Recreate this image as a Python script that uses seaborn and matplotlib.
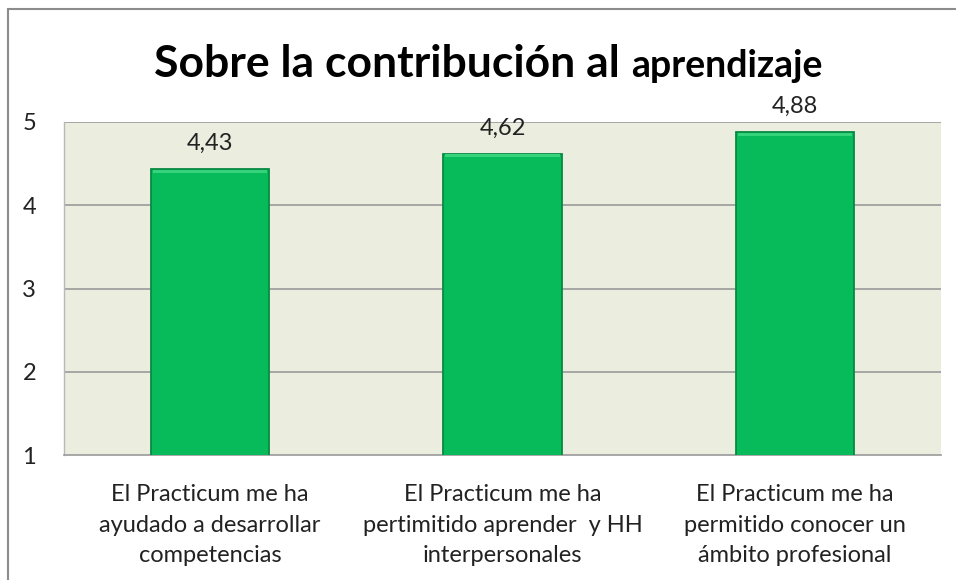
import matplotlib
matplotlib.use("Agg")
import matplotlib.pyplot as plt
import seaborn as sns
import pandas as pd
from matplotlib.patches import Rectangle

categories = [
    "El Practicum me ha\nayudado a desarrollar\ncompetencias",
    "El Practicum me ha\npertimitido aprender  y HH\ninterpersonales",
    "El Practicum me ha\npermitido conocer un\námbito profesional",
]
values = [4.43, 4.62, 4.88]
value_labels = ["4,43", "4,62", "4,88"]
y_ticks = [1, 2, 3, 4, 5]

df = pd.DataFrame({"cat": categories, "val": values})

sns.set_theme(style="white")
FONT = ["Lato", "DejaVu Sans"]
plt.rcParams["font.family"] = FONT

W, H = 956, 580
fig = plt.figure(figsize=(W / 100, H / 100), dpi=100)
ax = fig.add_axes([64 / W, 1 - 455 / H, (941 - 64) / W, (455 - 122) / H])

sns.barplot(data=df, x="cat", y="val", ax=ax, color="#07BB5A",
            saturation=1, width=0.404, edgecolor="#078A42", linewidth=1.3,
            zorder=3)
ax.set_facecolor("#EBEEDF")
ax.set_ylim(1, 5)
ax.set_xlim(-0.5, 2.5)
ax.set_yticks(y_ticks)
ax.set_yticklabels([str(t) for t in y_ticks], fontsize=17, color="#222222")
ax.tick_params(axis="y", length=0, pad=20)
ax.tick_params(axis="x", length=0, pad=21)
ax.set_xticks(range(len(categories)))
ax.set_xticklabels(categories, fontsize=17, color="#222222", linespacing=1.55)
ax.set_xlabel("")
ax.set_ylabel("")
for t in y_ticks[1:]:
    ax.axhline(t, color="#9A9A9A", lw=1.2, zorder=1)
for s in ["top", "right"]:
    ax.spines[s].set_visible(False)
ax.spines["left"].set_color("#B8B8B8")
ax.spines["bottom"].set_color("#9A9A9A")
ax.spines["left"].set_linewidth(1)
ax.spines["bottom"].set_linewidth(1.2)

# subtle bevel highlight along the top of each bar
for p in ax.patches:
    x0, w, top = p.get_x(), p.get_width(), p.get_y() + p.get_height()
    ax.add_patch(Rectangle((x0 + 0.006, top - 0.045), w - 0.012, 0.035,
                           facecolor="#35D37C", edgecolor="none", zorder=4))

# value labels
for i, (v, lab) in enumerate(zip(values, value_labels)):
    ax.annotate(lab, (i, v), xytext=(0, 11), textcoords="offset points",
                ha="center", va="bottom", fontsize=17, color="#222222")

# title: two parts with different sizes
fig.canvas.draw()
r = fig.canvas.get_renderer()
t1 = fig.text(0, 1 - 77 / H, "Sobre la contribución al ", fontsize=32,
              fontweight="bold", color="#000000", va="baseline", ha="left")
t2 = fig.text(0, 1 - 77 / H, "aprendizaje", fontsize=27,
              fontweight="bold", color="#000000", va="baseline", ha="left")
w1 = t1.get_window_extent(r).width
w2 = t2.get_window_extent(r).width
start = (147 + 830) / 2 - (w1 + w2) / 2
t1.set_x(start / W)
t2.set_x((start + w1) / W)

# outer frame
fig.add_artist(Rectangle((8 / W, -0.05), 1.0, 1 - 9 / H + 0.05,
                         transform=fig.transFigure, fill=False,
                         edgecolor="#8C8C8C", lw=1.5))

fig.savefig("out.png", dpi=100, facecolor="white")
